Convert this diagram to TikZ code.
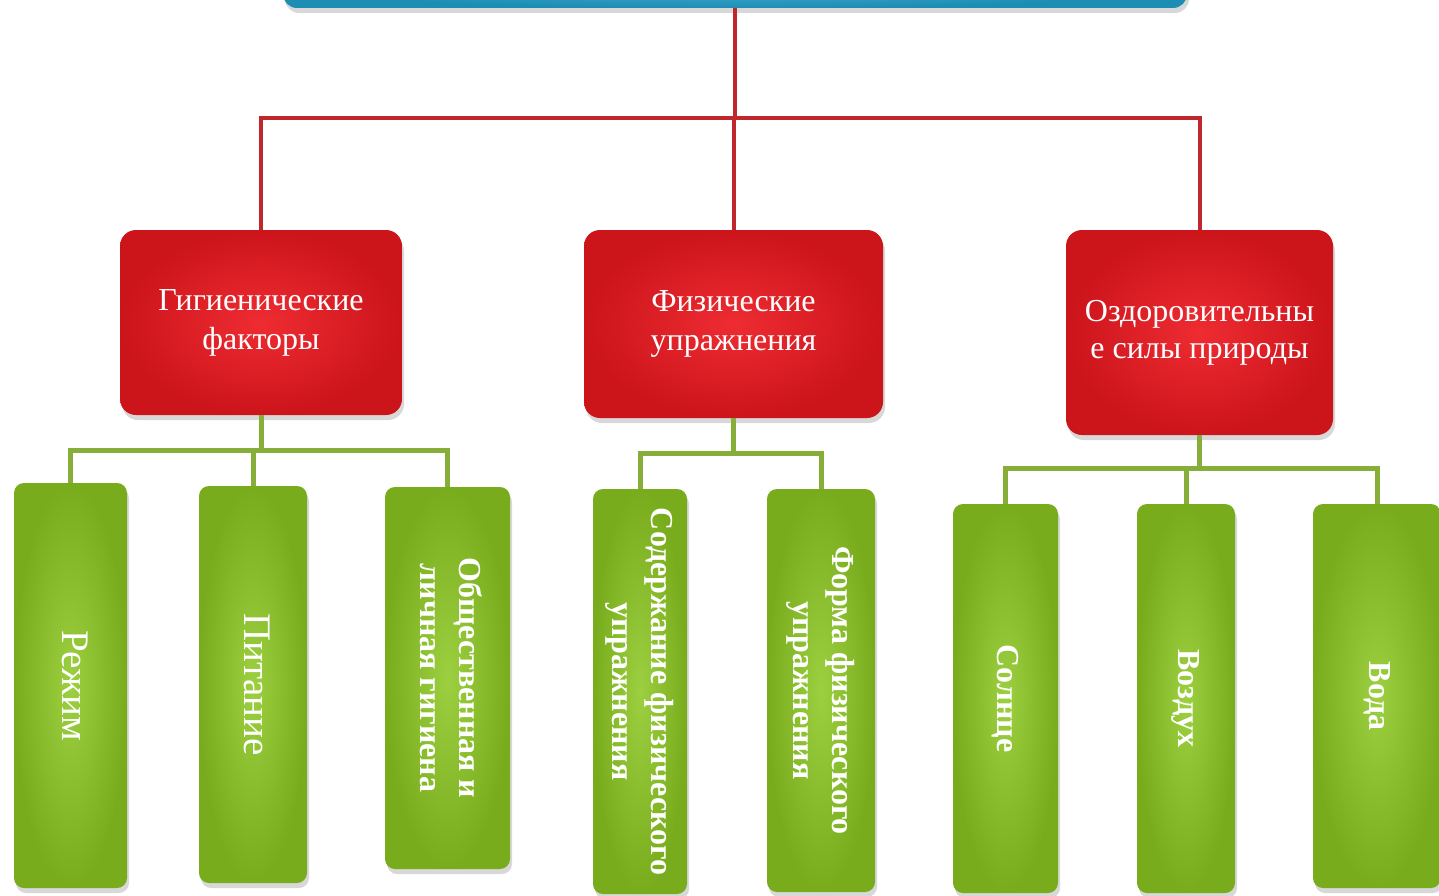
\documentclass[tikz,border=0pt]{standalone}
\usepackage{fontspec}
\setmainfont{Liberation Serif}
\usetikzlibrary{shadows}
\definecolor{redin}{HTML}{EE2C32}
\definecolor{redout}{HTML}{CC141B}
\definecolor{redline}{HTML}{C0272D}
\definecolor{greenin}{HTML}{9CD040}
\definecolor{greenout}{HTML}{78AC1C}
\definecolor{greenline}{HTML}{88AE3A}
\definecolor{bluein}{HTML}{4BB6D8}
\definecolor{blueout}{HTML}{1E8DB4}
\newcommand{\vtxt}[1]{\rotatebox{-90}{\begin{tabular}{@{}c@{}}#1\end{tabular}}}
\begin{document}
\begin{tikzpicture}[x=1pt,y=-1pt,
  topbox/.style={rounded corners=14pt, inner color=bluein, outer color=blueout, draw=none, inner sep=0pt,
    drop shadow={shadow xshift=2pt, shadow yshift=-5pt, opacity=0.3}},
  redbox/.style={rounded corners=16pt, inner color=redin, outer color=redout, draw=none, inner sep=0pt,
    text=white, align=center, font=\fontsize{32}{39}\selectfont,
    drop shadow={shadow xshift=2pt, shadow yshift=-5pt, opacity=0.3}},
  greenbox/.style={rounded corners=10pt, inner color=greenin, outer color=greenout, draw=none, inner sep=0pt,
    text=white, drop shadow={shadow xshift=2pt, shadow yshift=-5pt, opacity=0.3}},
  gthin/.style={greenbox, font=\fontsize{39}{42}\selectfont},
  gbold/.style={greenbox, font=\fontsize{32}{39}\selectfont\bfseries},
  gboldbig/.style={greenbox, font=\fontsize{32}{38}\selectfont\bfseries},
  redconn/.style={draw=redline, line width=4pt},
  greenconn/.style={draw=greenline, line width=5pt}
]
\useasboundingbox (0,0) rectangle (1439,896);
\clip (0,0) rectangle (1439,896);
\fill[white] (0,0) rectangle (1439,896);

% top
\node[topbox, minimum width=904pt, minimum height=48pt] (top) at (735,-16) {};

% red level
\node[redbox, minimum width=282pt, minimum height=185pt] (r1) at (261,322.5) {Гигиенические\\факторы};
\node[redbox, minimum width=299pt, minimum height=188pt] (r2) at (733.5,324) {Физические\\упражнения};
\node[redbox, minimum width=267pt, minimum height=205pt, font=\fontsize{32}{37}\selectfont] (r3) at (1199.5,332.5) {Оздоровительны\\е силы природы};

% green level
\node[gthin, minimum width=113pt, minimum height=405pt] (g1) at (70.5,685.5) {\vtxt{Режим}};
\node[gthin, minimum width=108pt, minimum height=397pt] (g2) at (253,684.5) {\vtxt{Питание}};
\node[gbold, minimum width=125pt, minimum height=382pt] (g3) at (447.5,678) {\vtxt{Общественная и\\личная гигиена}};
\node[gbold, minimum width=94pt, minimum height=405pt] (g4) at (640,691.5) {\vtxt{Содержание физического\\упражнения}};
\node[gbold, minimum width=108pt, minimum height=403pt] (g5) at (821,690.5) {\vtxt{Форма физического\\упражнения}};
\node[gboldbig, minimum width=105pt, minimum height=389pt] (g6) at (1005.5,698.5) {\vtxt{Солнце}};
\node[gboldbig, minimum width=98pt, minimum height=389pt] (g7) at (1186,698.5) {\vtxt{Воздух}};
\node[gboldbig, minimum width=128pt, minimum height=384pt] (g8) at (1377,696) {\vtxt{Вода}};

% red connectors
\coordinate (rbus) at (735,118);
\draw[redconn] (top.south) -- (rbus);
\draw[redconn] (rbus) -| (r1.north);
\draw[redconn] (rbus) -| (r3.north);
\draw[redconn] (rbus) -| (r2.north);

% green connectors
\coordinate (b1) at (261,450);
\draw[greenconn] (r1.south) -- (b1);
\draw[greenconn] (b1) -| (g1.north);
\draw[greenconn] (b1) -| (g2.north);
\draw[greenconn] (b1) -| (g3.north);

\coordinate (b2) at (733.5,453);
\draw[greenconn] (r2.south) -- (b2);
\draw[greenconn] (b2) -| (g4.north);
\draw[greenconn] (b2) -| (g5.north);

\coordinate (b3) at (1199.5,468);
\draw[greenconn] (r3.south) -- (b3);
\draw[greenconn] (b3) -| (g6.north);
\draw[greenconn] (b3) -| (g7.north);
\draw[greenconn] (b3) -| (g8.north);
\end{tikzpicture}
\end{document}
